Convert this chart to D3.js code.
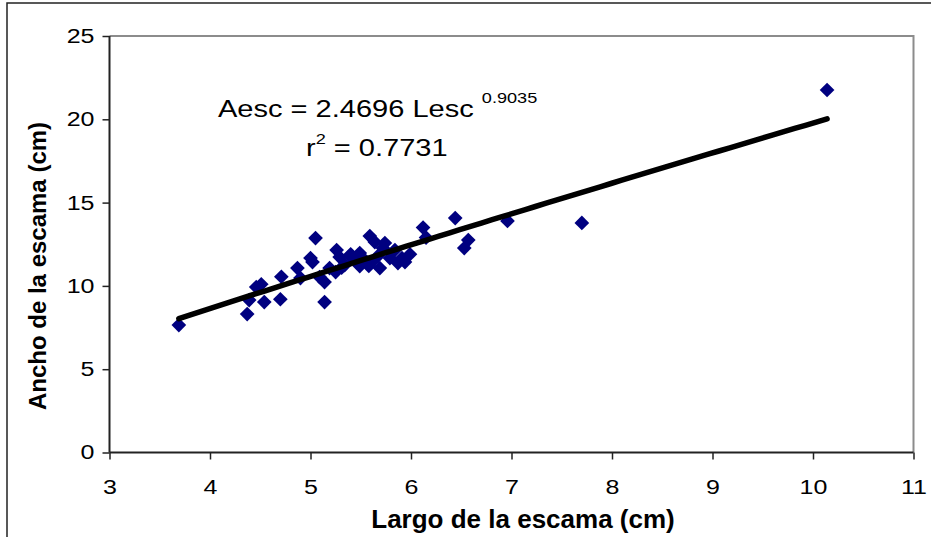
<!DOCTYPE html>
<html>
<head>
<meta charset="utf-8">
<script src="https://cdn.jsdelivr.net/npm/d3@7"></script>
<style>
  html, body { margin: 0; padding: 0; background: #fff; }
  svg { display: block; font-family: "Liberation Sans", Arial, sans-serif; }
</style>
</head>
<body>
<svg id="chart" width="931" height="537"></svg>
<script>
// Scale length (cm) vs scale width (cm)
const largo = [3.69, 4.37, 4.39, 4.54, 4.70, 4.46, 4.51, 4.71, 4.87, 4.90,
  5.00, 5.02, 5.05, 5.09, 5.14, 5.19, 5.14, 5.26, 5.29, 5.25,
  5.34, 5.39, 5.46, 5.49, 5.54, 5.61, 5.59, 5.64, 5.67, 5.69,
  5.72, 5.74, 5.79, 5.84, 5.87, 5.91, 5.94, 5.49, 5.40, 5.99,
  6.12, 6.15, 6.44, 6.57, 6.53, 6.96, 7.70, 10.14, 5.31, 5.58];
const ancho = [7.65, 8.31, 9.15, 9.03, 9.20, 9.93, 10.10, 10.55, 11.07, 10.47,
  11.67, 11.43, 12.87, 10.53, 9.03, 11.07, 10.23, 12.15, 11.73, 10.83,
  11.25, 11.79, 11.43, 11.97, 11.55, 11.43, 12.99, 12.63, 11.79, 11.07,
  12.27, 12.57, 11.67, 12.15, 11.37, 11.67, 11.43, 11.19, 11.90, 11.90,
  13.50, 12.90, 14.07, 12.75, 12.27, 13.90, 13.78, 21.76, 11.10, 11.20];

// Power trend line fitted to the data: Aesc = a * Lesc^b
const coefA = 2.4696, coefB = 0.9035, r2 = 0.7731;

const xTicks = [3, 4, 5, 6, 7, 8, 9, 10, 11];
const yTicks = [0, 5, 10, 15, 20, 25];

const svg = d3.select("#chart");
const x = d3.scaleLinear().domain([3, 11]).range([109.5, 913.5]);
const y = d3.scaleLinear().domain([0, 25]).range([452.5, 36]);

// text is drawn slightly wide
const WIDE = 1.25;

// outer chart frame
svg.append("rect").attr("x", 7).attr("y", 3).attr("width", 940).attr("height", 560)
  .attr("fill", "none").attr("stroke", "#222").attr("stroke-width", 1.5);

// plot area: grey top/right edges
svg.append("path")
  .attr("d", `M${x(3)},${y(25)}H${x(11)}V${y(0)}`)
  .attr("fill", "none").attr("stroke", "#8c8c8c").attr("stroke-width", 2);

// axes
const yAxis = d3.axisLeft(y).tickValues(yTicks).tickSize(7).tickPadding(5).tickFormat(d3.format("d"));
const xAxis = d3.axisBottom(x).tickValues(xTicks).tickSize(7).tickPadding(20).tickFormat(d3.format("d"));

const gy = svg.append("g").attr("transform", `translate(${x(3)},0)`).call(yAxis);
const gx = svg.append("g").attr("transform", `translate(0,${y(0)})`).call(xAxis);
[gx, gy].forEach(g => {
  g.select(".domain").attr("stroke", "#222").attr("stroke-width", 2);
  g.selectAll(".tick line").attr("stroke", "#222").attr("stroke-width", 1.5);
  g.selectAll(".tick text").attr("fill", "#000").style("font-size", "20px")
    .style("font-family", "'Liberation Sans', Arial, sans-serif")
    .attr("transform", `scale(${WIDE},1)`);
});
gy.select(".domain").attr("d", `M0,${y(0)}V${y(25)}`);
gx.select(".domain").attr("d", `M${x(3)},0H${x(11)}`);

// data points as diamonds
const pts = largo.map((l, i) => ({ l, a: ancho[i] }));
const diamond = d3.symbol().type(d3.symbolSquare).size(108);
svg.append("g").selectAll("path").data(pts).join("path")
  .attr("d", diamond)
  .attr("transform", d => `translate(${x(d.l)},${y(d.a)}) rotate(45)`)
  .attr("fill", "#000080");

// trend line across the data range
const xMin = d3.min(largo), xMax = d3.max(largo);
const trend = d3.range(0, 61).map(i => {
  const l = xMin + (xMax - xMin) * i / 60;
  return [l, coefA * Math.pow(l, coefB)];
});
svg.append("path").datum(trend)
  .attr("d", d3.line().x(d => x(d[0])).y(d => y(d[1])))
  .attr("fill", "none").attr("stroke", "#000").attr("stroke-width", 5.5)
  .attr("stroke-linecap", "round");

// equation labels
const eq = svg.append("text").attr("transform", `translate(218,117) scale(1.21,1)`)
  .style("font-size", "24px").attr("fill", "#000");
eq.append("tspan").text(`Aesc = ${coefA} Lesc `);
eq.append("tspan").attr("dy", -14).style("font-size", "15px").text(coefB);

const rt = svg.append("text").attr("transform", `translate(306,156) scale(1.21,1)`)
  .style("font-size", "24px").attr("fill", "#000");
rt.append("tspan").text("r");
rt.append("tspan").attr("dy", -12).style("font-size", "15px").text("2");
rt.append("tspan").attr("dy", 12).text(` = ${r2}`);

// axis titles
svg.append("text").attr("x", 523).attr("y", 528).attr("text-anchor", "middle")
  .style("font-size", "26px").style("font-weight", "bold").attr("fill", "#000")
  .text("Largo de la escama (cm)");
svg.append("text").attr("transform", `translate(46,266) rotate(-90)`)
  .attr("text-anchor", "middle")
  .style("font-size", "24px").style("font-weight", "bold").attr("fill", "#000")
  .text("Ancho de la escama (cm)");
</script>
</body>
</html>
